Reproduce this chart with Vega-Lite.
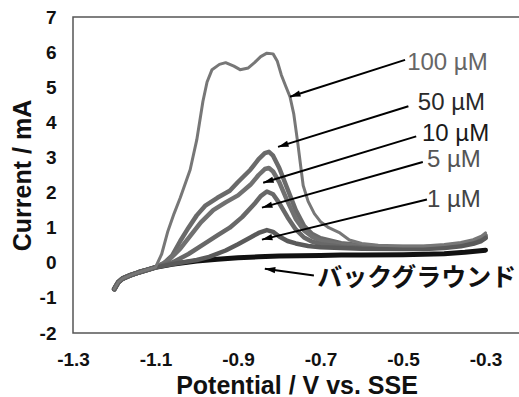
{
  "$schema": "https://vega.github.io/schema/vega-lite/v6.json",
  "width": 447,
  "height": 316,
  "autosize": {"type": "none"},
  "padding": {"left": 73, "top": 17, "right": 0, "bottom": 64},
  "background": "white",
  "config": {
    "view": {"stroke": "#555", "strokeWidth": 1.5},
    "font": "Liberation Sans",
    "axis": {"grid": false, "ticks": false, "domain": false, "labelFont": "Liberation Sans", "labelFontWeight": "bold", "labelFontSize": 19, "labelColor": "#111", "titleFont": "Liberation Sans", "titleFontWeight": "bold", "titleFontSize": 25, "titleColor": "#111", "labelPadding": 17, "labelFlush": false}
  },
  "resolve": {"scale": {"color": "independent"}},
  "datasets": {
    "curves": [
      {"s": "BG", "v": -1.2, "i": -0.75}, {"s": "BG", "v": -1.19, "i": -0.55}, {"s": "BG", "v": -1.18, "i": -0.45}, {"s": "BG", "v": -1.16, "i": -0.35}, {"s": "BG", "v": -1.14, "i": -0.27}, {"s": "BG", "v": -1.12, "i": -0.2}, {"s": "BG", "v": -1.1, "i": -0.13},
      {"s": "BG", "v": -1.06, "i": -0.04}, {"s": "BG", "v": -1.0, "i": 0.05}, {"s": "BG", "v": -0.95, "i": 0.1}, {"s": "BG", "v": -0.9, "i": 0.14}, {"s": "BG", "v": -0.85, "i": 0.17}, {"s": "BG", "v": -0.8, "i": 0.19}, {"s": "BG", "v": -0.75, "i": 0.2}, {"s": "BG", "v": -0.7, "i": 0.21}, {"s": "BG", "v": -0.65, "i": 0.22}, {"s": "BG", "v": -0.6, "i": 0.22}, {"s": "BG", "v": -0.5, "i": 0.23}, {"s": "BG", "v": -0.4, "i": 0.26}, {"s": "BG", "v": -0.35, "i": 0.3}, {"s": "BG", "v": -0.3, "i": 0.36},

      {"s": "100", "v": -1.2, "i": -0.75}, {"s": "100", "v": -1.19, "i": -0.55}, {"s": "100", "v": -1.18, "i": -0.45}, {"s": "100", "v": -1.16, "i": -0.35}, {"s": "100", "v": -1.14, "i": -0.27}, {"s": "100", "v": -1.12, "i": -0.2}, {"s": "100", "v": -1.1, "i": -0.13},
      {"s": "100", "v": -1.095, "i": 0.0}, {"s": "100", "v": -1.085, "i": 0.25}, {"s": "100", "v": -1.07, "i": 0.9}, {"s": "100", "v": -1.055, "i": 1.4}, {"s": "100", "v": -1.04, "i": 1.85}, {"s": "100", "v": -1.016, "i": 2.65}, {"s": "100", "v": -1.0, "i": 3.5}, {"s": "100", "v": -0.985, "i": 4.6}, {"s": "100", "v": -0.975, "i": 5.15}, {"s": "100", "v": -0.963, "i": 5.5}, {"s": "100", "v": -0.945, "i": 5.65}, {"s": "100", "v": -0.93, "i": 5.7}, {"s": "100", "v": -0.91, "i": 5.6}, {"s": "100", "v": -0.895, "i": 5.5}, {"s": "100", "v": -0.875, "i": 5.55}, {"s": "100", "v": -0.86, "i": 5.7}, {"s": "100", "v": -0.845, "i": 5.87}, {"s": "100", "v": -0.83, "i": 5.97}, {"s": "100", "v": -0.815, "i": 5.95}, {"s": "100", "v": -0.805, "i": 5.75}, {"s": "100", "v": -0.795, "i": 5.35}, {"s": "100", "v": -0.785, "i": 5.05}, {"s": "100", "v": -0.774, "i": 4.73}, {"s": "100", "v": -0.765, "i": 4.25}, {"s": "100", "v": -0.755, "i": 3.4}, {"s": "100", "v": -0.748, "i": 2.75}, {"s": "100", "v": -0.742, "i": 2.2}, {"s": "100", "v": -0.73, "i": 1.75}, {"s": "100", "v": -0.715, "i": 1.4}, {"s": "100", "v": -0.7, "i": 1.17}, {"s": "100", "v": -0.68, "i": 1.0}, {"s": "100", "v": -0.653, "i": 0.85}, {"s": "100", "v": -0.63, "i": 0.65}, {"s": "100", "v": -0.6, "i": 0.55}, {"s": "100", "v": -0.56, "i": 0.5}, {"s": "100", "v": -0.5, "i": 0.48}, {"s": "100", "v": -0.45, "i": 0.48}, {"s": "100", "v": -0.4, "i": 0.52}, {"s": "100", "v": -0.36, "i": 0.58}, {"s": "100", "v": -0.33, "i": 0.66}, {"s": "100", "v": -0.31, "i": 0.76}, {"s": "100", "v": -0.3, "i": 0.85},

      {"s": "50", "v": -1.2, "i": -0.75}, {"s": "50", "v": -1.19, "i": -0.55}, {"s": "50", "v": -1.18, "i": -0.45}, {"s": "50", "v": -1.16, "i": -0.35}, {"s": "50", "v": -1.14, "i": -0.27}, {"s": "50", "v": -1.12, "i": -0.2}, {"s": "50", "v": -1.1, "i": -0.13},
      {"s": "50", "v": -1.08, "i": -0.02}, {"s": "50", "v": -1.06, "i": 0.2}, {"s": "50", "v": -1.04, "i": 0.62}, {"s": "50", "v": -1.02, "i": 1.0}, {"s": "50", "v": -1.0, "i": 1.35}, {"s": "50", "v": -0.98, "i": 1.62}, {"s": "50", "v": -0.95, "i": 1.85}, {"s": "50", "v": -0.92, "i": 2.05}, {"s": "50", "v": -0.9, "i": 2.3}, {"s": "50", "v": -0.87, "i": 2.65}, {"s": "50", "v": -0.85, "i": 2.95}, {"s": "50", "v": -0.835, "i": 3.12}, {"s": "50", "v": -0.825, "i": 3.16}, {"s": "50", "v": -0.815, "i": 3.05}, {"s": "50", "v": -0.8, "i": 2.7}, {"s": "50", "v": -0.78, "i": 2.1}, {"s": "50", "v": -0.76, "i": 1.5}, {"s": "50", "v": -0.74, "i": 1.05}, {"s": "50", "v": -0.72, "i": 0.82}, {"s": "50", "v": -0.7, "i": 0.7}, {"s": "50", "v": -0.65, "i": 0.56}, {"s": "50", "v": -0.6, "i": 0.5}, {"s": "50", "v": -0.55, "i": 0.46}, {"s": "50", "v": -0.5, "i": 0.45}, {"s": "50", "v": -0.45, "i": 0.45}, {"s": "50", "v": -0.4, "i": 0.48}, {"s": "50", "v": -0.36, "i": 0.53}, {"s": "50", "v": -0.33, "i": 0.6}, {"s": "50", "v": -0.31, "i": 0.7}, {"s": "50", "v": -0.3, "i": 0.78},

      {"s": "10", "v": -1.2, "i": -0.75}, {"s": "10", "v": -1.19, "i": -0.55}, {"s": "10", "v": -1.18, "i": -0.45}, {"s": "10", "v": -1.16, "i": -0.35}, {"s": "10", "v": -1.14, "i": -0.27}, {"s": "10", "v": -1.12, "i": -0.2}, {"s": "10", "v": -1.1, "i": -0.13},
      {"s": "10", "v": -1.07, "i": 0.05}, {"s": "10", "v": -1.04, "i": 0.4}, {"s": "10", "v": -1.02, "i": 0.7}, {"s": "10", "v": -0.99, "i": 1.15}, {"s": "10", "v": -0.96, "i": 1.5}, {"s": "10", "v": -0.93, "i": 1.72}, {"s": "10", "v": -0.9, "i": 1.92}, {"s": "10", "v": -0.87, "i": 2.22}, {"s": "10", "v": -0.85, "i": 2.5}, {"s": "10", "v": -0.835, "i": 2.67}, {"s": "10", "v": -0.825, "i": 2.7}, {"s": "10", "v": -0.815, "i": 2.6}, {"s": "10", "v": -0.8, "i": 2.3}, {"s": "10", "v": -0.78, "i": 1.75}, {"s": "10", "v": -0.76, "i": 1.25}, {"s": "10", "v": -0.74, "i": 0.92}, {"s": "10", "v": -0.72, "i": 0.74}, {"s": "10", "v": -0.7, "i": 0.63}, {"s": "10", "v": -0.65, "i": 0.52}, {"s": "10", "v": -0.6, "i": 0.47}, {"s": "10", "v": -0.55, "i": 0.44}, {"s": "10", "v": -0.5, "i": 0.43}, {"s": "10", "v": -0.45, "i": 0.43}, {"s": "10", "v": -0.4, "i": 0.46}, {"s": "10", "v": -0.36, "i": 0.51}, {"s": "10", "v": -0.33, "i": 0.58}, {"s": "10", "v": -0.31, "i": 0.67}, {"s": "10", "v": -0.3, "i": 0.74},

      {"s": "5", "v": -1.2, "i": -0.75}, {"s": "5", "v": -1.19, "i": -0.55}, {"s": "5", "v": -1.18, "i": -0.45}, {"s": "5", "v": -1.16, "i": -0.35}, {"s": "5", "v": -1.14, "i": -0.27}, {"s": "5", "v": -1.12, "i": -0.2}, {"s": "5", "v": -1.1, "i": -0.13},
      {"s": "5", "v": -1.06, "i": 0.0}, {"s": "5", "v": -1.02, "i": 0.25}, {"s": "5", "v": -0.98, "i": 0.55}, {"s": "5", "v": -0.95, "i": 0.78}, {"s": "5", "v": -0.92, "i": 1.0}, {"s": "5", "v": -0.89, "i": 1.3}, {"s": "5", "v": -0.86, "i": 1.68}, {"s": "5", "v": -0.845, "i": 1.9}, {"s": "5", "v": -0.83, "i": 2.03}, {"s": "5", "v": -0.815, "i": 1.95}, {"s": "5", "v": -0.8, "i": 1.7}, {"s": "5", "v": -0.78, "i": 1.3}, {"s": "5", "v": -0.76, "i": 0.95}, {"s": "5", "v": -0.74, "i": 0.72}, {"s": "5", "v": -0.72, "i": 0.6}, {"s": "5", "v": -0.7, "i": 0.53}, {"s": "5", "v": -0.65, "i": 0.46}, {"s": "5", "v": -0.6, "i": 0.43}, {"s": "5", "v": -0.55, "i": 0.41}, {"s": "5", "v": -0.5, "i": 0.4}, {"s": "5", "v": -0.45, "i": 0.41}, {"s": "5", "v": -0.4, "i": 0.44}, {"s": "5", "v": -0.36, "i": 0.49}, {"s": "5", "v": -0.33, "i": 0.56}, {"s": "5", "v": -0.31, "i": 0.65}, {"s": "5", "v": -0.3, "i": 0.72},

      {"s": "1", "v": -1.2, "i": -0.75}, {"s": "1", "v": -1.19, "i": -0.55}, {"s": "1", "v": -1.18, "i": -0.45}, {"s": "1", "v": -1.16, "i": -0.35}, {"s": "1", "v": -1.14, "i": -0.27}, {"s": "1", "v": -1.12, "i": -0.2}, {"s": "1", "v": -1.1, "i": -0.13},
      {"s": "1", "v": -1.05, "i": -0.02}, {"s": "1", "v": -1.0, "i": 0.08}, {"s": "1", "v": -0.97, "i": 0.17}, {"s": "1", "v": -0.93, "i": 0.35}, {"s": "1", "v": -0.9, "i": 0.53}, {"s": "1", "v": -0.87, "i": 0.72}, {"s": "1", "v": -0.85, "i": 0.85}, {"s": "1", "v": -0.83, "i": 0.93}, {"s": "1", "v": -0.815, "i": 0.88}, {"s": "1", "v": -0.8, "i": 0.75}, {"s": "1", "v": -0.78, "i": 0.62}, {"s": "1", "v": -0.76, "i": 0.55}, {"s": "1", "v": -0.73, "i": 0.48}, {"s": "1", "v": -0.7, "i": 0.44}, {"s": "1", "v": -0.6, "i": 0.4}, {"s": "1", "v": -0.5, "i": 0.39}, {"s": "1", "v": -0.45, "i": 0.39}, {"s": "1", "v": -0.4, "i": 0.42}, {"s": "1", "v": -0.36, "i": 0.47}, {"s": "1", "v": -0.33, "i": 0.54}, {"s": "1", "v": -0.31, "i": 0.62}, {"s": "1", "v": -0.3, "i": 0.7}
    ],
    "arrows": [
      {"k": "100", "v": -0.495, "i": 5.78, "v2": -0.774, "i2": 4.73},
      {"k": "50", "v": -0.487, "i": 4.46, "v2": -0.803, "i2": 3.3},
      {"k": "10", "v": -0.468, "i": 3.6, "v2": -0.839, "i2": 2.28},
      {"k": "5", "v": -0.452, "i": 2.87, "v2": -0.842, "i2": 1.57},
      {"k": "1", "v": -0.442, "i": 1.8, "v2": -0.842, "i2": 0.66},
      {"k": "BG", "v": -0.716, "i": -0.36, "v2": -0.835, "i2": -0.17}
    ],
    "labels": [
      {"label": "100 µM", "v": -0.49, "i": 5.7},
      {"label": "50 µM", "v": -0.464, "i": 4.56},
      {"label": "10 µM", "v": -0.454, "i": 3.68},
      {"label": "5 µM", "v": -0.442, "i": 2.93},
      {"label": "1 µM", "v": -0.442, "i": 1.79}
    ],
    "bglabel": [
      {"label": "バックグラウンド", "v": -0.708, "i": -0.43}
    ]
  },
  "encoding": {
    "x": {"field": "v", "type": "quantitative", "scale": {"domain": [-1.3, -0.2164], "nice": false, "zero": false},
      "axis": {"values": [-1.3, -1.1, -0.9, -0.7, -0.5, -0.3], "format": ".1f", "labelExpr": "replace(datum.label, '−', '-')", "title": "Potential / V vs. SSE", "titlePadding": 4}},
    "y": {"field": "i", "type": "quantitative", "scale": {"domain": [-2, 7], "nice": false, "zero": false},
      "axis": {"values": [-2, -1, 0, 1, 2, 3, 4, 5, 6, 7], "labelExpr": "replace(datum.label, '−', '-')", "title": "Current / mA", "titlePadding": 4}}
  },
  "layer": [
    {
      "data": {"name": "curves"},
      "transform": [{"filter": "datum.s == 'BG'"}],
      "mark": {"type": "line", "strokeCap": "round", "strokeJoin": "round", "clip": true, "color": "#111111", "strokeWidth": 5},
      "encoding": {
        "order": {"field": "v", "type": "quantitative"}
      }
    },
    {
      "data": {"name": "curves"},
      "transform": [{"filter": "datum.s != 'BG' && datum.s != '100'"}],
      "mark": {"type": "line", "strokeCap": "round", "strokeJoin": "round", "clip": true, "strokeWidth": 4.5},
      "encoding": {
        "detail": {"field": "s"},
        "color": {"field": "s", "type": "nominal", "legend": null,
          "scale": {"domain": ["50", "10", "5", "1"], "range": ["#6a6a6a", "#707070", "#686868", "#5a5a5a"]}},
        "order": {"field": "v", "type": "quantitative"}
      }
    },
    {
      "data": {"name": "curves"},
      "transform": [{"filter": "datum.s == '100'"}],
      "mark": {"type": "line", "strokeCap": "round", "strokeJoin": "round", "clip": true, "color": "#777777", "strokeWidth": 3},
      "encoding": {
        "order": {"field": "v", "type": "quantitative"}
      }
    },
    {
      "data": {"name": "arrows"},
      "mark": {"type": "rule", "color": "#000", "strokeWidth": 2},
      "encoding": {
        "x2": {"field": "v2"},
        "y2": {"field": "i2"}
      }
    },
    {
      "data": {"name": "arrows"},
      "transform": [
        {"calculate": "atan2((datum.v2 - datum.v) * 412.5, (datum.i2 - datum.i) * 35.1) * 180 / PI", "as": "ang"}
      ],
      "mark": {"type": "point", "shape": "M0,0L-0.6,2L0.6,2Z", "filled": true, "color": "#000", "opacity": 1, "size": 110},
      "encoding": {
        "x": {"field": "v2", "type": "quantitative"},
        "y": {"field": "i2", "type": "quantitative"},
        "angle": {"field": "ang", "type": "quantitative", "scale": null}
      }
    },
    {
      "data": {"name": "labels"},
      "mark": {"type": "text", "align": "left", "baseline": "middle", "fontSize": 24, "font": "Liberation Sans"},
      "encoding": {
        "text": {"field": "label"},
        "color": {"field": "label", "type": "nominal", "legend": null,
          "scale": {"domain": ["100 µM", "50 µM", "10 µM", "5 µM", "1 µM"], "range": ["#666666", "#2a2a2a", "#1a1a1a", "#555555", "#444444"]}}
      }
    },
    {
      "data": {"name": "bglabel"},
      "mark": {"type": "text", "align": "left", "baseline": "middle", "fontSize": 25, "font": "Noto Sans CJK JP", "fontWeight": "bold", "color": "#111"},
      "encoding": {
        "text": {"field": "label"}
      }
    }
  ]
}
